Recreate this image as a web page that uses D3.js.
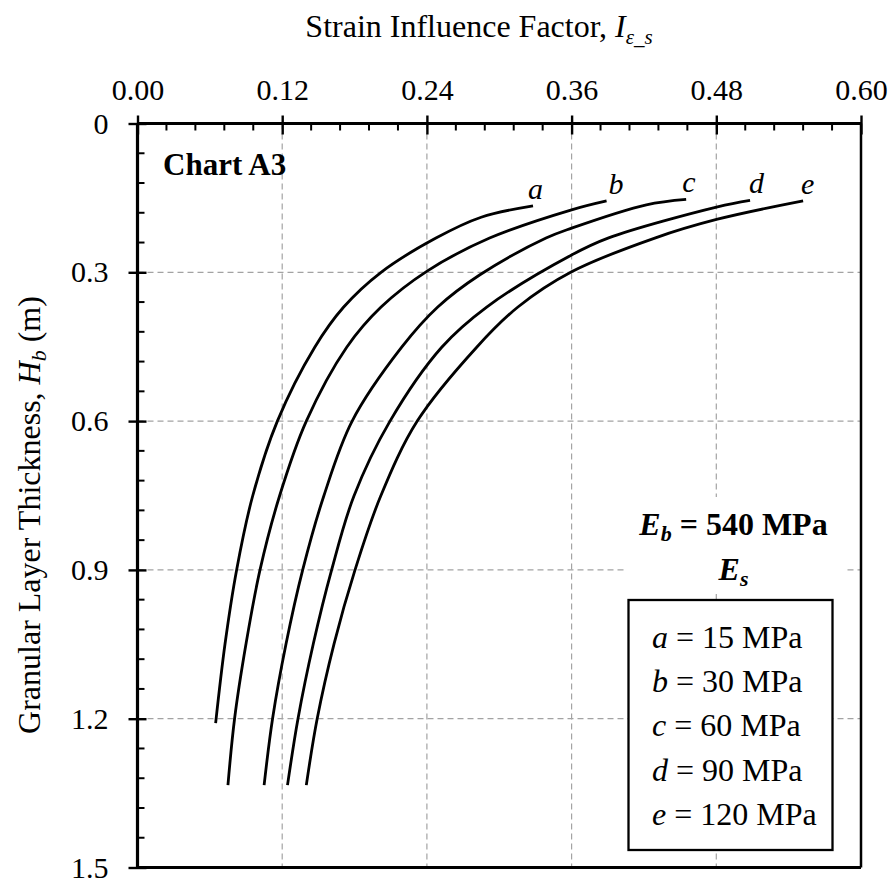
<!DOCTYPE html>
<html>
<head>
<meta charset="utf-8">
<script src="https://cdn.jsdelivr.net/npm/d3@7"></script>
<style>
  body { margin: 0; background: #fff; }
  svg { display: block; }
  text { font-family: "Liberation Serif", "Times New Roman", serif; fill: #000; }
</style>
</head>
<body>
<svg id="chart" width="896" height="888"></svg>
<script>
// ---------- data ----------
const xTickValues = [0, 0.12, 0.24, 0.36, 0.48, 0.60];
const xTickLabels = ["0.00", "0.12", "0.24", "0.36", "0.48", "0.60"];
const yTickValues = [0, 0.3, 0.6, 0.9, 1.2, 1.5];
const yTickLabels = ["0", "0.3", "0.6", "0.9", "1.2", "1.5"];
const xMinorTicks = [0.024, 0.048, 0.072, 0.096, 0.144, 0.168, 0.192, 0.216, 0.264, 0.288, 0.312, 0.336,
                     0.384, 0.408, 0.432, 0.456, 0.504, 0.528, 0.552, 0.576];
const yMinorTicks = [0.06, 0.12, 0.18, 0.24, 0.36, 0.42, 0.48, 0.54, 0.66, 0.72, 0.78, 0.84,
                     0.96, 1.02, 1.08, 1.14, 1.26, 1.32, 1.38, 1.44];
const xGridValues = [0.12, 0.24, 0.36, 0.48];
const yGridValues = [0.3, 0.6, 0.9, 1.2];

// curve a : Es = 15 MPa  (Hb in m -> strain influence factor)
const hA = [0.166, 0.189, 0.231, 0.300, 0.370, 0.451, 0.600, 0.751, 0.900, 1.049, 1.209];
const vA = [0.328, 0.285, 0.2475, 0.202, 0.171, 0.147, 0.116, 0.0955, 0.0822, 0.0726, 0.0648];
// curve b : Es = 30 MPa
const hB = [0.156, 0.174, 0.231, 0.297, 0.370, 0.451, 0.600, 0.751, 0.900, 1.049, 1.200, 1.334];
const vB = [0.389, 0.360, 0.292, 0.2405, 0.202, 0.1735, 0.140, 0.1178, 0.1016, 0.090, 0.0805, 0.0750];
// curve c : Es = 60 MPa
const hC = [0.153, 0.164, 0.211, 0.231, 0.305, 0.370, 0.451, 0.600, 0.751, 0.900, 1.049, 1.200, 1.334];
const vC = [0.455, 0.422, 0.360, 0.3388, 0.284, 0.249, 0.2191, 0.178, 0.1545, 0.137, 0.1232, 0.112, 0.105];
// curve d : Es = 90 MPa
const hD = [0.155, 0.168, 0.231, 0.265, 0.370, 0.451, 0.600, 0.751, 0.900, 1.049, 1.200, 1.334];
const vD = [0.508, 0.481, 0.3902, 0.360, 0.2896, 0.2523, 0.2094, 0.1795, 0.161, 0.1458, 0.1331, 0.1244];
// curve e : Es = 120 MPa
const hE = [0.156, 0.193, 0.231, 0.299, 0.370, 0.451, 0.600, 0.751, 0.900, 1.049, 1.200, 1.334];
const vE = [0.552, 0.481, 0.429, 0.360, 0.3155, 0.2813, 0.232, 0.2017, 0.1804, 0.163, 0.149, 0.140];

const curveNames = ["a", "b", "c", "d", "e"];
const curveH = [hA, hB, hC, hD, hE];
const curveV = [vA, vB, vC, vD, vE];
const legendValues = ["15", "30", "60", "90", "120"];

// ---------- layout ----------
const svg = d3.select("#chart");
const x = d3.scaleLinear().domain([0, 0.6]).range([137.5, 861]);
const y = d3.scaleLinear().domain([0, 1.5]).range([123.5, 867.5]);
const TICK_FS = 30, TITLE_FS = 32, LEG_FS = 32;
const labelDx = [-5, 2, -4, -1, -2];

// gridlines
const grid = svg.append("g").attr("stroke", "#a3a3a3").attr("stroke-width", 1.2).attr("stroke-dasharray", "6,4");
grid.selectAll("line.vx").data(xGridValues).join("line")
  .attr("x1", d => x(d)).attr("x2", d => x(d)).attr("y1", y(0)).attr("y2", y(1.5));
grid.selectAll("line.hy").data(yGridValues).join("line")
  .attr("x1", x(0)).attr("x2", x(0.6)).attr("y1", d => y(d)).attr("y2", d => y(d));

// curves
const series = curveNames.map((n, i) => ({
  name: n, idx: i,
  pts: curveH[i].map((h, j) => ({ h: h, v: curveV[i][j] }))
}));
const line = d3.line().x(d => x(d.v)).y(d => y(d.h)).curve(d3.curveCatmullRom.alpha(0.5));
svg.append("g").selectAll("path").data(series).join("path")
  .attr("d", d => line(d.pts))
  .attr("fill", "none").attr("stroke", "#000").attr("stroke-width", 2.8)
  .attr("stroke-linecap", "butt");

// curve labels
svg.append("g").selectAll("text").data(series).join("text")
  .attr("x", d => x(d.pts[0].v) + labelDx[d.idx])
  .attr("y", d => y(d.pts[0].h) - 7)
  .attr("font-size", TICK_FS).attr("font-style", "italic")
  .text(d => d.name);

// legend: white area behind Eb / Es
svg.append("rect").attr("x", 625).attr("y", 497).attr("width", 222).attr("height", 97).attr("fill", "#fff");
const t1 = svg.append("text").attr("x", 733.5).attr("y", 535).attr("text-anchor", "middle")
  .attr("font-size", LEG_FS).attr("font-weight", "bold");
t1.append("tspan").attr("font-style", "italic").text("E");
t1.append("tspan").attr("font-style", "italic").attr("font-size", 22).attr("dy", 6).text("b");
t1.append("tspan").attr("dy", -6).text(" = 540 MPa");
const t2 = svg.append("text").attr("x", 733.5).attr("y", 580).attr("text-anchor", "middle")
  .attr("font-size", LEG_FS).attr("font-weight", "bold").attr("font-style", "italic");
t2.append("tspan").text("E");
t2.append("tspan").attr("font-size", 22).attr("dy", 6).text("s");

// legend box
svg.append("rect").attr("x", 628.5).attr("y", 600).attr("width", 204).attr("height", 250)
  .attr("fill", "#fff").attr("stroke", "#000").attr("stroke-width", 2.3);
const lg = svg.append("g").selectAll("text").data(curveNames).join("text")
  .attr("x", 652).attr("y", (d, i) => 648 + i * 44.2).attr("font-size", LEG_FS);
lg.append("tspan").attr("font-style", "italic").text(d => d);
lg.append("tspan").text((d, i) => " = " + legendValues[i] + " MPa");

// chart tag
svg.append("text").attr("x", 163).attr("y", 175).attr("font-size", 31).attr("font-weight", "bold").text("Chart A3");

// borders (right, bottom)
svg.append("line").attr("x1", x(0.6)).attr("x2", x(0.6)).attr("y1", y(0)).attr("y2", y(1.5))
  .attr("stroke", "#000").attr("stroke-width", 2.5);
svg.append("line").attr("x1", x(0)).attr("x2", x(0.6)).attr("y1", y(1.5)).attr("y2", y(1.5))
  .attr("stroke", "#000").attr("stroke-width", 2.8);

// top axis
const xAxis = d3.axisTop(x).tickValues(xTickValues).tickFormat((d, i) => xTickLabels[i])
  .tickSize(8).tickPadding(15.5);
const gx = svg.append("g").attr("transform", `translate(0,${y(0)})`).call(xAxis);
gx.select(".domain").attr("stroke-width", 3.2).attr("d", `M${x(0)},0H${x(0.6)}`);
gx.selectAll(".tick line").attr("y1", 11).attr("stroke-width", 2.4);
gx.selectAll(".tick text").attr("font-size", TICK_FS).attr("font-family", null);
gx.selectAll("line.minor").data(xMinorTicks).join("line").attr("class", "minor")
  .attr("x1", d => x(d)).attr("x2", d => x(d)).attr("y1", 0).attr("y2", 7)
  .attr("stroke", "#000").attr("stroke-width", 2);

// left axis
const yAxis = d3.axisLeft(y).tickValues(yTickValues).tickFormat((d, i) => yTickLabels[i])
  .tickSize(9).tickPadding(20);
const gy = svg.append("g").attr("transform", `translate(${x(0)},0)`).call(yAxis);
gy.select(".domain").attr("stroke-width", 3.2).attr("d", `M0,${y(0)}V${y(1.5)}`);
gy.selectAll(".tick line").attr("x1", 9).attr("stroke-width", 2.4);
gy.selectAll(".tick text").attr("font-size", TICK_FS).attr("font-family", null);
gy.selectAll("line.minor").data(yMinorTicks).join("line").attr("class", "minor")
  .attr("y1", d => y(d)).attr("y2", d => y(d)).attr("x1", 0).attr("x2", 7)
  .attr("stroke", "#000").attr("stroke-width", 2);

// axis titles
const xt = svg.append("text").attr("x", 479).attr("y", 37).attr("text-anchor", "middle").attr("font-size", TITLE_FS);
xt.append("tspan").text("Strain Influence Factor, ");
xt.append("tspan").attr("font-style", "italic").text("I");
xt.append("tspan").attr("font-style", "italic").attr("font-size", 21).attr("dy", 7).text("ε_s");

const yt = svg.append("text").attr("transform", `translate(40,515) rotate(-90)`)
  .attr("text-anchor", "middle").attr("font-size", TITLE_FS);
yt.append("tspan").text("Granular Layer Thickness, ");
yt.append("tspan").attr("font-style", "italic").text("H");
yt.append("tspan").attr("font-style", "italic").attr("font-size", 22).attr("dy", 6).text("b");
yt.append("tspan").attr("dy", -6).text(" (m)");
</script>
</body>
</html>
